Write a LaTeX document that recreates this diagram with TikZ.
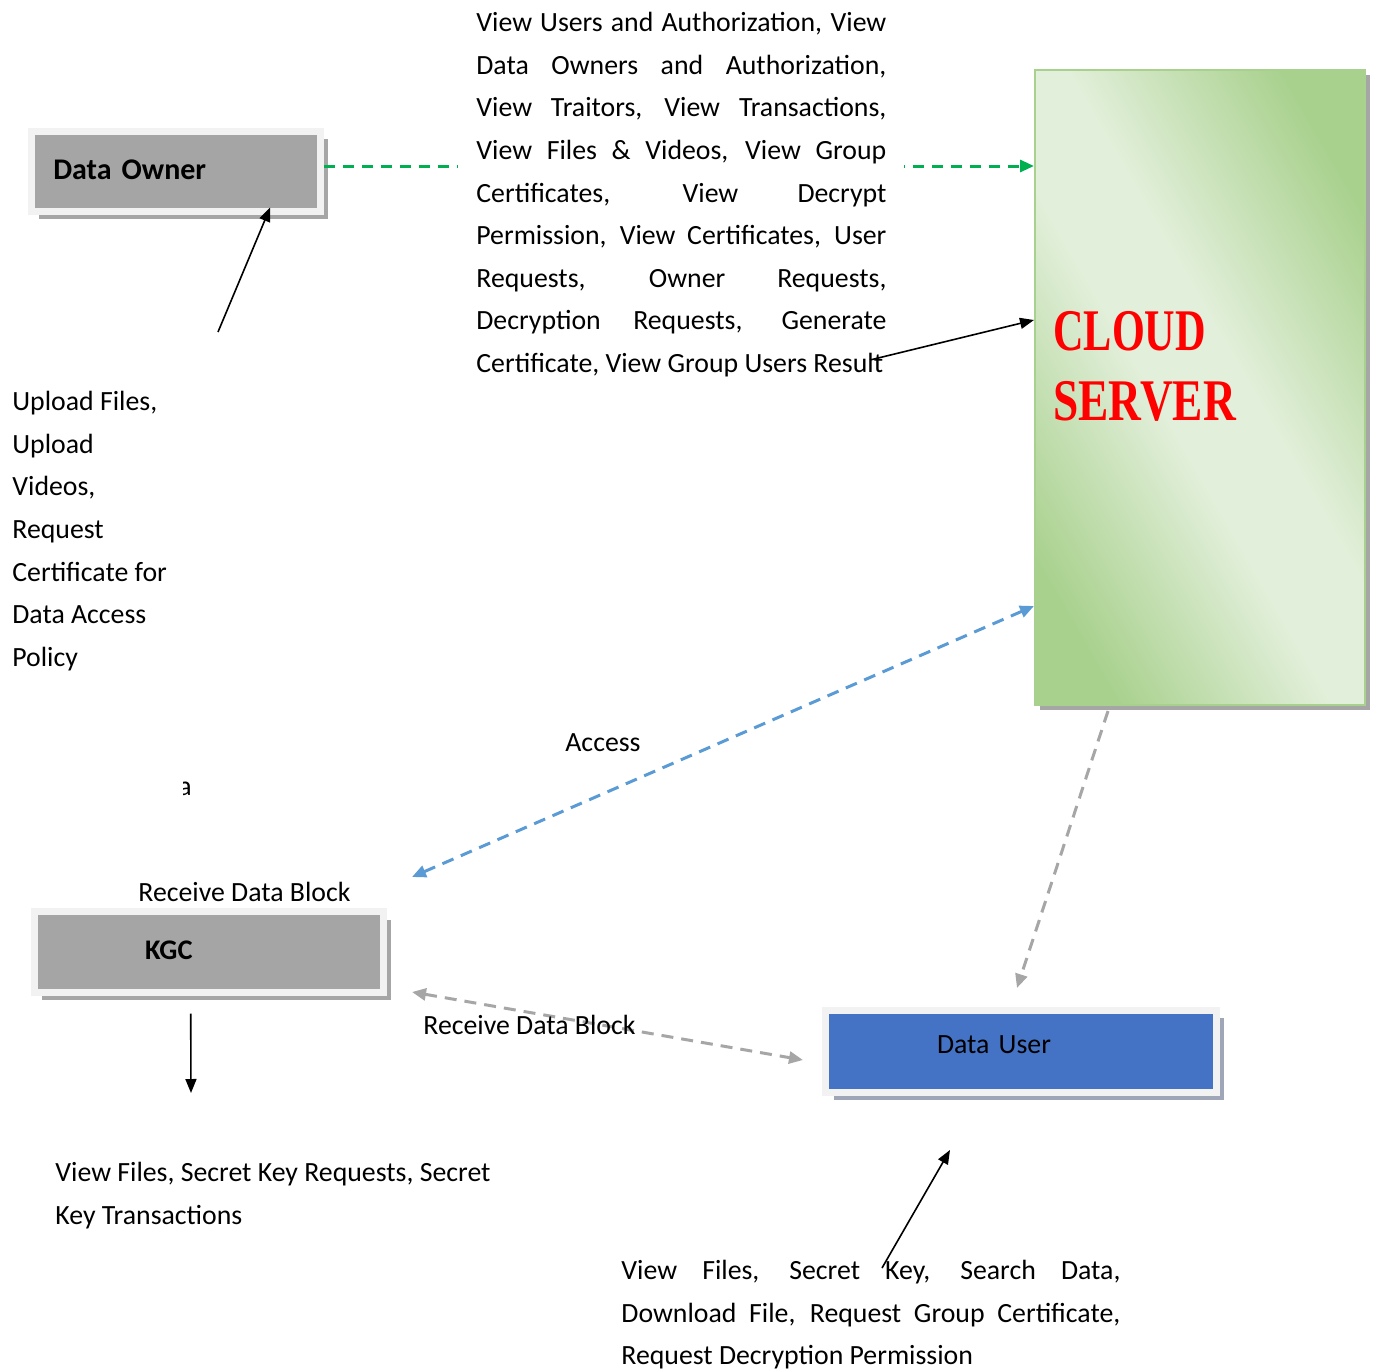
\documentclass[tikz,border=0pt]{standalone}
\usepackage{fontspec}
\setmainfont{Carlito}
\newfontfamily\cloudfont{Liberation Serif}
\usetikzlibrary{arrows.meta,shadows,calc}
\definecolor{boxgrey}{HTML}{A5A5A5}
\definecolor{framegrey}{HTML}{F2F2F2}
\definecolor{shadowgrey}{HTML}{A6A6A6}
\definecolor{usershadow}{HTML}{9EA6B8}
\definecolor{arrowgreen}{HTML}{00B050}
\definecolor{arrowblue}{HTML}{5B9BD5}
\definecolor{dashgrey}{HTML}{A6A6A6}
\definecolor{userblue}{HTML}{4472C4}
\definecolor{clouddark}{HTML}{A9D18E}
\definecolor{cloudlight}{HTML}{E2EFDA}
\pgfdeclareverticalshading{cloudshade}{100bp}{color(0bp)=(clouddark); color(24bp)=(clouddark); color(45bp)=(cloudlight); color(55bp)=(cloudlight); color(76bp)=(clouddark); color(100bp)=(clouddark)}
\newcommand\natsp{\spaceskip=0pt\relax\xspaceskip=0pt\relax}
\newcommand\jline[2]{\makebox[#1][s]{#2}}
\begin{document}
\begin{tikzpicture}[x=0.5pt,y=-0.5pt,
  font=\fontsize{13.9}{21.3}\selectfont,
  boxnode/.style={draw=framegrey, line width=3.5pt, fill=boxgrey, align=left, inner ysep=0pt,
    drop shadow={shadow xshift=4pt, shadow yshift=-4pt, fill=shadowgrey, opacity=1}},
  userbox/.style={draw=framegrey, line width=3.5pt, fill=userblue, align=left, inner ysep=0pt,
    drop shadow={shadow xshift=4pt, shadow yshift=-4pt, fill=usershadow, opacity=1}},
  cloudbox/.style={draw=clouddark, line width=1pt, shading=cloudshade, shading angle=-60,
    drop shadow={shadow xshift=2.5pt, shadow yshift=-2.5pt, fill=shadowgrey, opacity=1}},
  txt/.style={inner sep=0pt, align=left},
  greendash/.style={arrowgreen, line width=1.5pt, dash pattern=on 5.5pt off 4pt, -{Triangle[length=7pt,width=6pt]}},
  bluedash/.style={arrowblue, line width=1.5pt, dash pattern=on 6pt off 4pt, {Triangle[length=7pt,width=6pt]}-{Triangle[length=7pt,width=6pt]}},
  greydash/.style={dashgrey, line width=1.5pt, dash pattern=on 6pt off 4pt},
  blackarrow/.style={black, line width=0.8pt, -{Triangle[length=7pt,width=5.5pt]}}
]
\useasboundingbox (0,0) rectangle (1373,1371);

% boxes
\node[boxnode, minimum height=40pt, text width=122.5pt, inner xsep=11pt,
  font=\fontsize{15}{18}\selectfont\bfseries] (owner) at (175.75,171) {\raisebox{1.5pt}{Data Owner}};
\node[boxnode, minimum height=40.25pt, text width=63.5pt, inner xsep=55.5pt,
  font=\fontsize{14.2}{17}\selectfont\bfseries] (kgc) at (208.5,951.75) {\raisebox{2pt}{KGC}};
\node[userbox, minimum height=41pt, text width=83.75pt, inner xsep=55.75pt] (user) at (1020.75,1051) {\raisebox{6pt}{Data User}};
\node[cloudbox, minimum width=165pt, minimum height=317.5pt] (cloud) at (1200,387.5) {};
\node[txt, anchor=north west, text=red, font=\fontsize{22.7}{35}\selectfont\cloudfont\bfseries] (cloudtext) at (1053,311)
  {\scalebox{0.93}[1.3]{CLOUD}\\\scalebox{1}[1.3]{SERVER}};

% green dashed connector (behind the text block)
\draw[greendash] ($(owner.east)+(0,-5)$) -- ($(cloud.west |- owner.east)+(0,-5)$);

% main text block
\node[txt, anchor=north west, fill=white, inner xsep=9pt, text width=205pt] (info) at (458,12) {\natsp
\jline{205pt}{View Users and Authorization, View}\\
\jline{205pt}{Data Owners and Authorization,}\\
\jline{205pt}{View Traitors, View Transactions,}\\
\jline{205pt}{View Files \& Videos, View Group}\\
\jline{205pt}{Certificates, View Decrypt}\\
\jline{205pt}{Permission, View Certificates, User}\\
\jline{205pt}{Requests, Owner Requests,}\\
\jline{205pt}{Decryption Requests, Generate}\\
\mbox{Certificate, View Group Users Result}};

% other texts
\node[txt, anchor=north west] (ownertext) at (12,391) {\natsp Upload Files,\\Upload\\Videos,\\Request\\Certificate for\\Data Access\\Policy};
\begin{scope}
\clip (183,770) rectangle (200,805);
\node[txt, anchor=base] (stray) at (185,795) {a};
\end{scope}
\node[txt, anchor=base west] (rdb1) at (138,901) {\natsp Receive Data Block};
\node[txt, anchor=base west] (access) at (565,751) {\natsp Access};
\node[txt, anchor=north west] (kgctext) at (55,1162) {\natsp View Files, Secret Key Requests, Secret\\Key Transactions};
\node[txt, anchor=north west, text width=249.5pt] (usertext) at (621,1260) {\natsp
\jline{249.5pt}{View Files, Secret Key, Search Data,}\\
\jline{249.5pt}{Download File, Request Group Certificate,}\\
Request Decryption Permission};

% coordinates
\coordinate (ownerfrom) at (218,332);
\coordinate (infofrom) at (870,360);
\coordinate (c320) at (0,320);
\coordinate (c606) at (0,606);
\coordinate (kgcnear) at (412,877);
\coordinate (kgcside) at (412,992);
\coordinate (userside) at (803,1060);
\coordinate (c1108) at (1108,0);
\coordinate (usertop) at (1017,988);
\coordinate (kgcdown) at (191,1093);
\coordinate (userfrom) at (882,1268);
\coordinate (userto) at (950,1150);

% connectors
\draw[blackarrow] (ownerfrom) -- ($(owner.south west)!0.819!(owner.south east)+(0,-7)$);
\draw[blackarrow] (infofrom) -- (cloud.west |- c320);
\draw[bluedash] (cloud.west |- c606) -- (kgcnear);
\draw[greydash, {Triangle[length=7pt,width=6pt]}-{Triangle[length=7pt,width=6pt]}] (kgcside) -- (userside);
\node[txt, anchor=base west] (rdb2) at (423,1034) {\natsp Receive Data Block};
\draw[greydash, -{Triangle[length=7pt,width=6pt]}] ($(cloud.south -| c1108)+(0,5)$) -- (usertop);
\draw[blackarrow] ($(kgc.south west)!0.45!(kgc.south east)+(0,18)$) -- (kgcdown);
\draw[blackarrow] (userfrom) -- (userto);
\end{tikzpicture}
\end{document}
